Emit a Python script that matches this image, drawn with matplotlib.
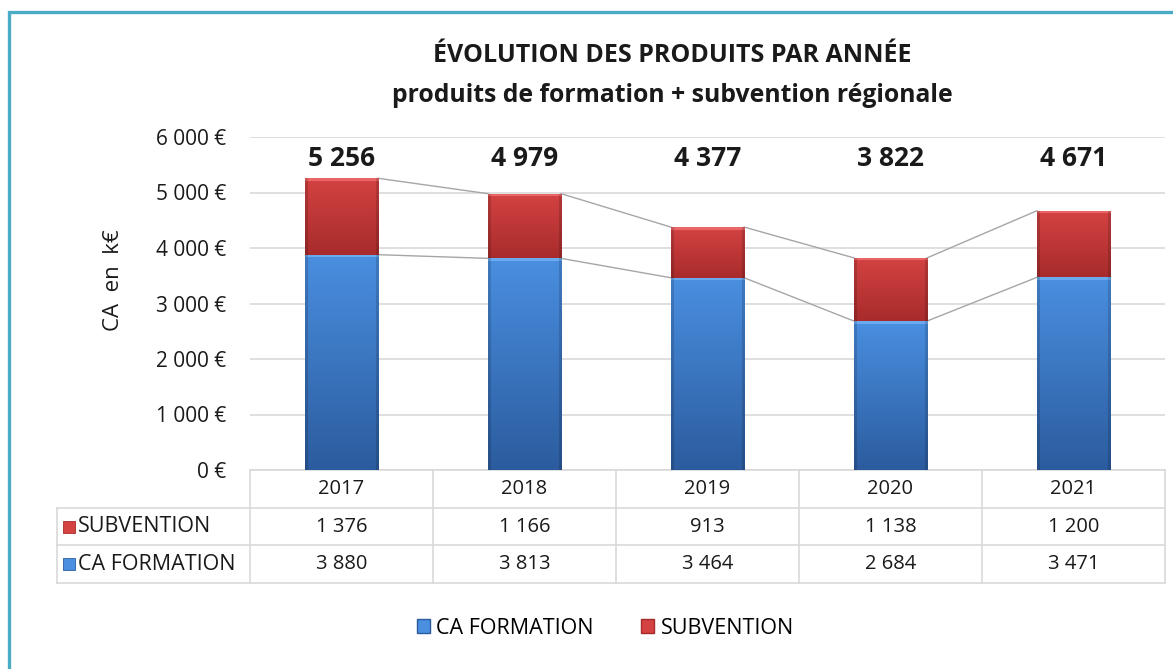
import numpy as np
import matplotlib
matplotlib.use("Agg")
import matplotlib.pyplot as plt
from matplotlib.patches import Rectangle, Patch
from matplotlib.transforms import blended_transform_factory

plt.rcParams["font.family"] = ["Open Sans", "DejaVu Sans"]

years = ["2017", "2018", "2019", "2020", "2021"]
ca_formation = [3880, 3813, 3464, 2684, 3471]
subvention = [1376, 1166, 913, 1138, 1200]
totals = [5256, 4979, 4377, 3822, 4671]
yticks = [0, 1000, 2000, 3000, 4000, 5000, 6000]

BLUE = dict(top=(0.42, 0.67, 0.94), hi=(0.29, 0.56, 0.88), lo=(0.17, 0.36, 0.62))
RED = dict(top=(0.92, 0.40, 0.40), hi=(0.83, 0.26, 0.26), lo=(0.66, 0.17, 0.17))
GRID = "#d9d9d9"
TXT = "#1a1a1a"


def fmt(v):
    return f"{v:,}".replace(",", " ")


def shade_bar(ax, rect, cols):
    x, y = rect.get_x(), rect.get_y()
    w, h = rect.get_width(), rect.get_height()
    ny, nx = max(int(h / 6000 * 333), 4), 73
    t = np.linspace(0, 1, ny)[:, None]
    hi, lo = np.array(cols["hi"]), np.array(cols["lo"])
    img = hi[None, None, :] * (1 - t[..., None]) + lo[None, None, :] * t[..., None]
    img = np.repeat(img, nx, axis=1)
    # bevel: lighter top strip, darker sides
    img[:3, :, :] = np.array(cols["top"])
    side = np.ones(nx)
    side[:3] = 0.85
    side[-3:] = 0.85
    img = img * side[None, :, None]
    im = ax.imshow(np.clip(img, 0, 1), extent=[x, x + w, y, y + h],
                   aspect="auto", origin="upper", zorder=3, interpolation="bilinear")
    im.set_clip_path(rect)


fig = plt.figure(figsize=(11.73, 6.69), dpi=100)
ax = fig.add_axes([250 / 1173, 1 - 470 / 669, 915 / 1173, 333 / 669])

xs = np.arange(len(years))
w = 0.4
b1 = ax.bar(xs, ca_formation, width=w, color=BLUE["hi"], edgecolor=(0.5, 0.5, 0.5, 0.6),
            linewidth=0.6, zorder=2, label="CA FORMATION")
b2 = ax.bar(xs, subvention, bottom=ca_formation, width=w, color=RED["hi"],
            edgecolor=(0.5, 0.5, 0.5, 0.6), linewidth=0.6, zorder=2, label="SUBVENTION")
for r in b1:
    shade_bar(ax, r, BLUE)
for r in b2:
    shade_bar(ax, r, RED)

# series lines between bars
tops = np.array(ca_formation) + np.array(subvention)
for level in (np.array(ca_formation), tops):
    for i in range(len(xs) - 1):
        ax.plot([xs[i] + w / 2, xs[i + 1] - w / 2], [level[i], level[i + 1]],
                color="#a6a6a6", lw=1, zorder=1)

# totals, all on one line near the top of the plot
for x, t in zip(xs, totals):
    ax.text(x, 5620, fmt(t), ha="center", va="center", fontsize=19,
            fontweight="bold", color=TXT)

ax.set_xlim(-0.5, len(years) - 0.5)
ax.set_ylim(0, 6000)
ax.set_yticks(yticks)
ax.set_yticklabels([f"{fmt(v)} €" for v in yticks], fontsize=15, color=TXT)
ax.tick_params(axis="y", length=0, pad=17)
ax.set_xticks([])
ax.grid(axis="y", color=GRID, lw=1.2, zorder=0)
ax.set_axisbelow(True)
for s in ax.spines.values():
    s.set_visible(False)
fig.text(114 / 1173, 1 - 280 / 669, "CA  en  k€", rotation=90, ha="center", va="center",
         fontsize=16, color=TXT)

# data table under the plot
tr = blended_transform_factory(ax.transData, ax.transAxes)
row_y = [0, -38 / 333, -75 / 333, -113 / 333]
left = -0.5 - 193 / 183
kw = dict(color=GRID, lw=1.2, clip_on=False, zorder=1)
ax.plot([-0.5, 4.5], [row_y[0]] * 2, transform=tr, **kw)
for yy in row_y[1:]:
    ax.plot([left, 4.5], [yy] * 2, transform=tr, **kw)
for i in range(len(years) + 1):
    ax.plot([i - 0.5] * 2, [row_y[0], row_y[3]], transform=tr, **kw)
ax.plot([left] * 2, [row_y[1], row_y[3]], transform=tr, **kw)

for i, yr in enumerate(years):
    ax.text(i, (row_y[0] + row_y[1]) / 2, yr, transform=tr, ha="center", va="center",
            fontsize=14.5, color=TXT)
rows = [("SUBVENTION", subvention, RED), ("CA FORMATION", ca_formation, BLUE)]
for k, (name, vals, cols) in enumerate(rows):
    yc = (row_y[k + 1] + row_y[k + 2]) / 2
    for i, v in enumerate(vals):
        ax.text(i, yc, fmt(v), transform=tr, ha="center", va="center",
                fontsize=14.5, color=TXT)
    ax.add_patch(Rectangle((left + 6 / 183, yc - 6 / 333), 12 / 183, 12 / 333,
                           transform=tr, facecolor=cols["hi"], edgecolor=cols["lo"],
                           lw=0.6, clip_on=False))
    ax.text(left + 21 / 183, yc, name, transform=tr, ha="left", va="center",
            fontsize=15.5, color=TXT)

fig.legend(handles=[Patch(facecolor=BLUE["hi"], edgecolor=BLUE["lo"], label="CA FORMATION"),
                    Patch(facecolor=RED["hi"], edgecolor=RED["lo"], label="SUBVENTION")],
           loc="center", bbox_to_anchor=(0.516, 1 - 628 / 669), ncol=2, frameon=False,
           fontsize=15.5, handlelength=0.6, handleheight=0.6, handletextpad=0.3,
           columnspacing=2.2)

fig.text(0.573, 1 - 55 / 669, "ÉVOLUTION DES PRODUITS PAR ANNÉE", ha="center",
         va="center", fontsize=18, fontweight="bold", color=TXT)
fig.text(0.573, 1 - 95 / 669, "produits de formation + subvention régionale", ha="center",
         va="center", fontsize=17.8, fontweight="bold", color=TXT)

# outer frame of the chart area
fig.patches.append(Rectangle((9 / 1173, -0.2), 1.2, 1.2 - 12 / 669, transform=fig.transFigure,
                             fill=False, edgecolor="#4bacc6", lw=2.4, zorder=10))

fig.savefig("out.png", dpi=100, facecolor="white")
